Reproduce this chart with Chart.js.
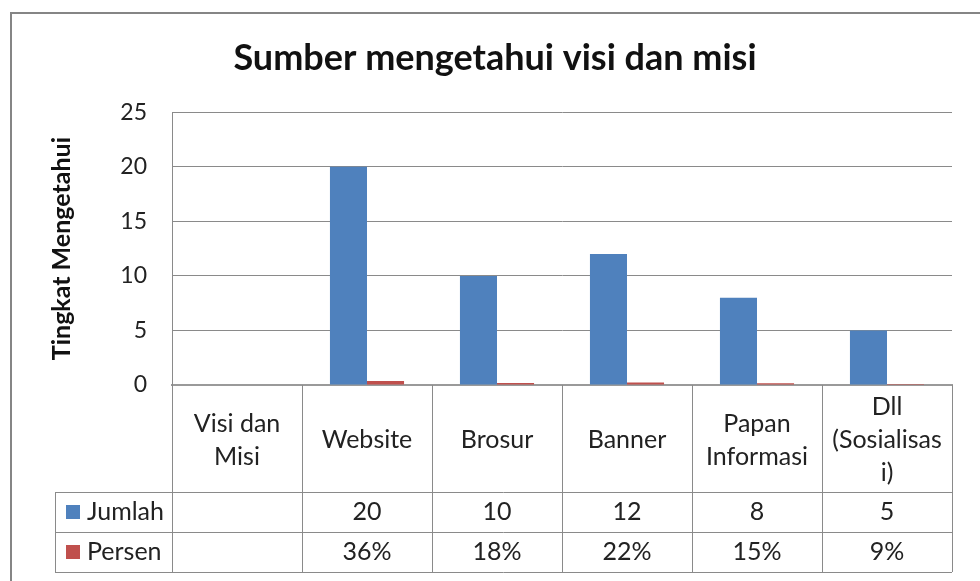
<!DOCTYPE html>
<html>
<head>
<meta charset="utf-8">
<script src="https://cdn.jsdelivr.net/npm/chart.js@4.4.0/dist/chart.umd.min.js"></script>
<style>
    html, body { margin: 0; padding: 0; background: #fff; }
    #wrap { position: relative; width: 980px; height: 581px; }
</style>
</head>
<body>
<div id="wrap"><canvas id="sumberChart"></canvas></div>
<script>
// data
const categories = [['Visi dan', 'Misi'], 'Website', 'Brosur', 'Banner', ['Papan', 'Informasi'], ['Dll', '(Sosialisas', 'i)']];
const jumlah = [null, 20, 10, 12, 8, 5];
const persen = [null, 0.36, 0.18, 0.22, 0.15, 0.09];
const yMin = 0;
const yMax = 25;
const yStep = 5;

const FONT = 'Lato, "Open Sans", sans-serif';
const textColor = '#222';
const lineColor = '#8a8a8a';
const blue = '#4F81BD';
const red = '#C0504D';

// white background + the frame Excel draws round the chart
const framePlugin = {
    id: 'frame',
    beforeDraw(chart) {
        const c = chart.ctx;
        c.save();
        c.fillStyle = '#fff';
        c.fillRect(0, 0, chart.width, chart.height);
        c.strokeStyle = '#858585';
        c.lineWidth = 2;
        c.beginPath();
        c.moveTo(11, chart.height);
        c.lineTo(11, 13);
        c.lineTo(chart.width, 13);
        c.stroke();
        c.restore();
    }
};

// the data table under the plot (category labels + values + legend keys)
const tablePlugin = {
    id: 'dataTable',
    afterDraw(chart) {
        const c = chart.ctx;
        const area = chart.chartArea;
        const x = chart.scales.x;
        const n = categories.length;
        const top = area.bottom;
        const headH = 107;
        const rowH = 40;
        const keyLeft = area.left - 117;
        const bottom = top + headH + rowH * 2;

        const edges = [area.left];
        for (let i = 1; i < n; i++) {
            edges.push((x.getPixelForValue(i - 1) + x.getPixelForValue(i)) / 2);
        }
        edges.push(area.right);

        c.save();
        c.strokeStyle = lineColor;
        c.lineWidth = 1;
        c.beginPath();
        edges.forEach(ex => {
            const px = Math.round(ex) + 0.5;
            c.moveTo(px, top);
            c.lineTo(px, bottom);
        });
        [top + headH, top + headH + rowH, bottom].forEach(ly => {
            const py = Math.round(ly) + 0.5;
            c.moveTo(keyLeft, py);
            c.lineTo(area.right, py);
        });
        c.moveTo(keyLeft + 0.5, top + headH);
        c.lineTo(keyLeft + 0.5, bottom);
        c.stroke();

        c.fillStyle = textColor;
        c.font = '25px ' + FONT;
        c.textAlign = 'center';
        c.textBaseline = 'middle';
        const lh = 33;
        categories.forEach((cat, i) => {
            const lines = Array.isArray(cat) ? cat : [cat];
            const cx = x.getPixelForValue(i);
            const cy = top + 55 - (lines.length - 1) * lh / 2;
            lines.forEach((ln, j) => c.fillText(ln, cx, cy + j * lh));
        });

        const rows = [
            { label: 'Jumlah', color: blue, values: jumlah.map(v => v === null ? '' : String(v)) },
            { label: 'Persen', color: red, values: persen.map(v => v === null ? '' : Math.round(v * 100) + '%') }
        ];
        rows.forEach((row, r) => {
            const my = top + headH + rowH * r + rowH / 2;
            c.fillStyle = row.color;
            c.fillRect(keyLeft + 11, my - 7, 14, 14);
            c.fillStyle = textColor;
            c.textAlign = 'left';
            c.fillText(row.label, keyLeft + 32, my);
            c.textAlign = 'center';
            row.values.forEach((v, i) => c.fillText(v, x.getPixelForValue(i), my));
        });
        c.restore();
    }
};

const ctx = document.getElementById('sumberChart');
new Chart(ctx, {
    type: 'bar',
    data: {
        labels: categories,
        datasets: [
            {
                label: 'Jumlah',
                data: jumlah,
                backgroundColor: blue,
                borderWidth: 0,
                categoryPercentage: 0.57,
                barPercentage: 1.0,
            },
            {
                label: 'Persen',
                data: persen,
                backgroundColor: red,
                borderWidth: 0,
                categoryPercentage: 0.57,
                barPercentage: 1.0,
            }
        ]
    },
    options: {
        responsive: true,
        maintainAspectRatio: false,
        animation: false,
        layout: {
            padding: { left: 38, right: 28, top: 20, bottom: 196 }
        },
        scales: {
            x: {
                ticks: { display: false },
                grid: { display: false },
                border: { display: true, color: '#9a9a9a', width: 2 },
                afterFit(scale) { scale.height = 0; }
            },
            y: {
                min: yMin,
                max: yMax,
                ticks: {
                    stepSize: yStep,
                    color: textColor,
                    padding: 25,
                    font: { family: FONT, size: 23 }
                },
                grid: { color: lineColor, drawTicks: false },
                border: { display: true, color: lineColor },
                title: {
                    display: true,
                    text: 'Tingkat Mengetahui',
                    color: '#111',
                    font: { family: FONT, size: 25, weight: 'bold' },
                    padding: { top: 9, bottom: 0 }
                },
                afterFit(scale) { scale.width = 134; }
            }
        },
        plugins: {
            legend: { display: false },
            tooltip: { enabled: false },
            title: {
                display: true,
                text: 'Sumber mengetahui visi dan misi',
                color: '#111',
                font: { family: FONT, size: 36, weight: 'bold' },
                padding: { top: 17, bottom: 32 }
            }
        }
    },
    plugins: [framePlugin, tablePlugin]
});
</script>
</body>
</html>
